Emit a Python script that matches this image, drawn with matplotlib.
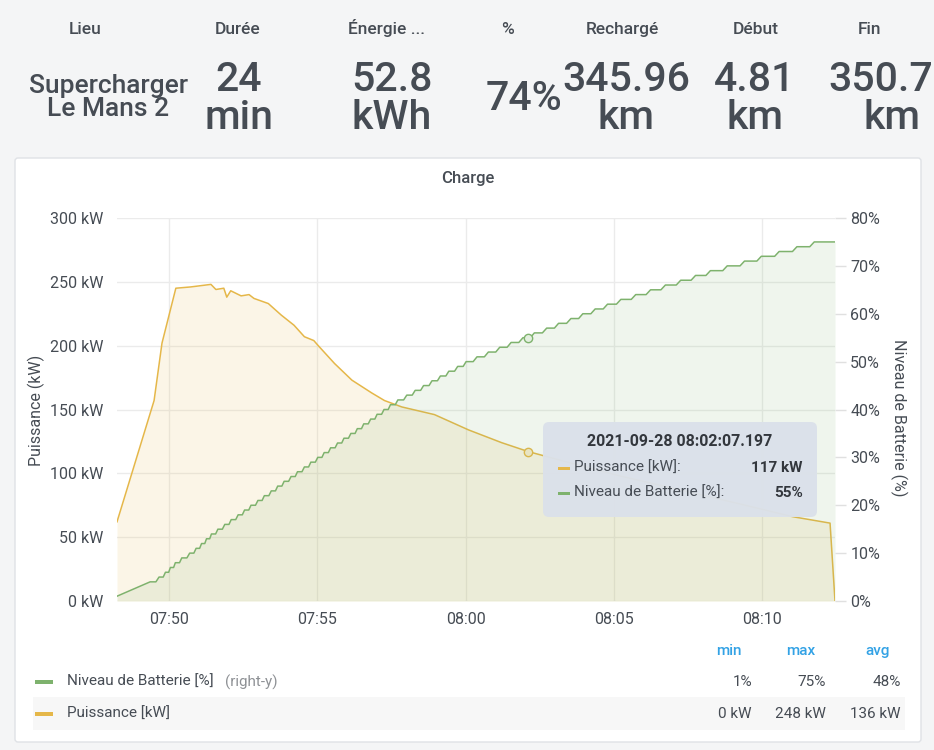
import matplotlib
matplotlib.use('Agg')
import matplotlib.pyplot as plt
import matplotlib.dates as mdates
from matplotlib.patches import FancyBboxPatch, Rectangle
import pandas as pd

plt.rcParams['font.family'] = ['Roboto', 'DejaVu Sans']

# ---------------- data ----------------
stat_labels = ['Lieu', 'Durée', 'Énergie ...', '%', 'Rechargé', 'Début', 'Fin']
stat_lieu = ['Supercharger', 'Le Mans 2']
stat_numbers = ['24', '52.8', '74%', '345.96', '4.81', '350.77']
stat_units = ['min', 'kWh', '', 'km', 'km', 'km']

power_times = ['07:48:15', '07:49:30', '07:49:46', '07:50:14', '07:50:44', '07:51:25',
               '07:51:35', '07:51:51', '07:51:57', '07:52:05', '07:52:26', '07:52:42',
               '07:52:52', '07:53:21', '07:53:47', '07:54:13', '07:54:34', '07:54:53',
               '07:55:02', '07:55:35', '07:56:10', '07:56:50', '07:57:16', '07:57:51',
               '07:58:57', '08:00:06', '08:01:13', '08:02:07', '08:03:14', '08:05:12',
               '08:07:14', '08:09:15', '08:11:02', '08:12:17', '08:12:27']
power_kw = [62, 157, 202, 245, 246, 248, 244, 245, 238, 243, 239, 240,
            237, 233, 224, 216, 207, 204, 200, 186, 173, 163, 157, 152,
            146, 134, 124, 117, 110, 98, 87, 76, 66, 61, 0]

# battery level (%) and the time each level was first reported
battery_times = ['07:48:15', '07:49:22', '07:49:40', '07:49:53',
                 '07:50:03', '07:50:13', '07:50:26', '07:50:42', '07:50:55', '07:51:06',
                 '07:51:16', '07:51:26', '07:51:39', '07:51:53', '07:52:06', '07:52:20',
                 '07:52:33', '07:52:46', '07:53:00', '07:53:13', '07:53:27', '07:53:40',
                 '07:53:53', '07:54:07', '07:54:20', '07:54:34', '07:54:47', '07:55:01',
                 '07:55:14', '07:55:27', '07:55:41', '07:55:54', '07:56:08', '07:56:21',
                 '07:56:34', '07:56:48', '07:57:01', '07:57:15', '07:57:28', '07:57:43',
                 '07:58:01', '07:58:18', '07:58:35', '07:58:52', '07:59:09', '07:59:26',
                 '07:59:44', '08:00:01', '08:00:23', '08:00:46', '08:01:09', '08:01:32',
                 '08:01:56', '08:02:19', '08:02:44', '08:03:08', '08:03:33', '08:03:57',
                 '08:04:22', '08:04:47', '08:05:14', '08:05:44', '08:06:14', '08:06:44',
                 '08:07:15', '08:07:45', '08:08:15', '08:08:49', '08:09:24', '08:09:58',
                 '08:10:34', '08:11:10', '08:11:45', '08:12:27']
battery_pct = [1, 4, 5, 6, 7, 8, 9, 10, 11, 12, 13, 14, 15, 16, 17, 18, 19, 20,
               21, 22, 23, 24, 25, 26, 27, 28, 29, 30, 31, 32, 33, 34, 35, 36, 37, 38, 39, 40,
               41, 42, 43, 44, 45, 46, 47, 48, 49, 50, 51, 52, 53, 54, 55, 56, 57, 58, 59, 60,
               61, 62, 63, 64, 65, 66, 67, 68, 69, 70, 71, 72, 73, 74, 75, 75]

legend_names = ['Niveau de Batterie [%]', 'Puissance [kW]']
legend_min = ['1%', '0 kW']
legend_max = ['75%', '248 kW']
legend_avg = ['48%', '136 kW']

tooltip_time = '2021-09-28 08:02:07.197'
tooltip_power = 117
tooltip_batt = 55

DAY = '2021-09-28 '
p_t = pd.to_datetime([DAY + t for t in power_times])
b_t = pd.to_datetime([DAY + t for t in battery_times])

# each level holds until shortly before the next one (last sample of the level),
# the line then rises to the next level like the sampled series does
bx_line, by_line = [b_t[0]], [battery_pct[0]]
for i in range(1, len(b_t) - 1):
    gap = b_t[i + 1] - b_t[i]
    bx_line.append(b_t[i])
    by_line.append(battery_pct[i])
    riser = min(gap * 0.35, pd.Timedelta(seconds=9))
    bx_line.append(b_t[i + 1] - riser)
    by_line.append(battery_pct[i])
bx_line.append(b_t[-1])
by_line.append(battery_pct[-1])

# ---------------- style ----------------
TXT = '#464c54'
GREEN = '#7eb26d'
YELLOW = '#e5b749'
GRID = '#ebebeb'
BG = '#f4f5f6'

W, H = 934, 750
fig = plt.figure(figsize=(W / 100, H / 100), dpi=100)
fig.patch.set_facecolor(BG)
T = fig.dpi_scale_trans


def P(px, py):
    return px / 100, (H - py) / 100


def ftext(px, py, s, **kw):
    x, y = P(px, py)
    return fig.text(x, y, s, transform=T, **kw)


# ---------- stat header ----------
hdr_x = [85, 238, 387, 508, 622, 756, 870]
for x, lab in zip(hdr_x, stat_labels):
    ftext(x, 34, lab, ha='center', va='baseline', fontsize=12.5, fontweight='medium', color=TXT)

ftext(108, 93, stat_lieu[0], ha='center', va='baseline', fontsize=19, fontweight='medium', color=TXT)
ftext(108, 116, stat_lieu[1], ha='center', va='baseline', fontsize=19, fontweight='medium', color=TXT)

num_x = [239, 392, 524, 626, 755, 892]
for x, n, u in zip(num_x, stat_numbers, stat_units):
    if u:
        ftext(x, 91, n, ha='center', va='baseline', fontsize=29.5, fontweight='medium', color=TXT)
        ftext(x, 129, u, ha='center', va='baseline', fontsize=29.5, fontweight='medium', color=TXT)
    else:
        ftext(x, 110, n, ha='center', va='baseline', fontsize=29.5, fontweight='medium', color=TXT)

# ---------- chart panel ----------
px0, py0 = P(15, 742)
panel = FancyBboxPatch((px0, py0), (921 - 15) / 100, (742 - 158) / 100,
                       boxstyle='round,pad=0,rounding_size=0.03', transform=T,
                       facecolor='white', edgecolor='#dfe2e6', linewidth=1, zorder=-5)
fig.patches.append(panel)

ftext(468, 178, 'Charge', ha='center', va='center', fontsize=12, fontweight='medium', color=TXT)

# axes
L, R, TOP, BOT = 117, 835, 218, 601
ax = fig.add_axes([L / W, 1 - BOT / H, (R - L) / W, (BOT - TOP) / H])
ax.patch.set_visible(False)
ax2 = ax.twinx()

ax.fill_between(p_t, power_kw, 0, color=YELLOW, alpha=0.13, linewidth=0, zorder=1)
ax.plot(p_t, power_kw, color=YELLOW, lw=1.1, zorder=3)
ax2.fill_between(bx_line, by_line, 0, color=GREEN, alpha=0.12, linewidth=0, zorder=1)
ax2.plot(bx_line, by_line, color=GREEN, lw=1.1, zorder=3)

tt = pd.Timestamp('2021-09-28 08:02:07')
ax.plot([tt], [tooltip_power], marker='o', ms=6, mfc='#f7ecd0', mec=YELLOW, mew=1, zorder=4)
ax2.plot([tt], [tooltip_batt], marker='o', ms=6, mfc='#e3efdf', mec=GREEN, mew=1, zorder=4)

ax.set_xlim(p_t[0], p_t[-1])
ax.set_ylim(0, 300)
ax2.set_ylim(0, 80)
ax.set_yticks(range(0, 301, 50))
ax.set_yticklabels([f'{v} kW' for v in range(0, 301, 50)])
ax2.set_yticks(range(0, 81, 10))
ax2.set_yticklabels([f'{v}%' for v in range(0, 81, 10)])
ax.xaxis.set_major_locator(mdates.MinuteLocator(byminute=range(0, 60, 5)))
ax.xaxis.set_major_formatter(mdates.DateFormatter('%H:%M'))

ax.grid(True, color=GRID, lw=1)
ax.set_axisbelow(True)
for a in (ax, ax2):
    for s in a.spines.values():
        s.set_visible(False)
ax.tick_params(axis='both', length=0, labelsize=11.5, labelcolor=TXT)
ax.tick_params(axis='y', pad=9.5)
ax.tick_params(axis='x', pad=8)
ax2.tick_params(axis='y', length=8, color='#e0e0e0', width=1, pad=3, labelsize=11.5, labelcolor=TXT)

ftext(36, 410, 'Puissance (kW)', ha='center', va='center', rotation=90, fontsize=11.5, color=TXT)
ftext(899, 418, 'Niveau de Batterie (%)', ha='center', va='center', rotation=-90, fontsize=11.5, color=TXT)

# ---------- tooltip ----------
bx, by = P(543, 517)
tip = FancyBboxPatch((bx, by), (817 - 543) / 100, (517 - 422) / 100,
                     boxstyle='round,pad=0,rounding_size=0.06', transform=T,
                     facecolor='#dbe1ea', edgecolor='none', alpha=0.97, zorder=10)
fig.patches.append(tip)
t1 = ftext(680, 442, tooltip_time, ha='center', va='center', fontsize=11.5, fontweight='bold', color='#33373d')
rows = [(468, YELLOW, 'Puissance [kW]:', f'{tooltip_power} kW'),
        (493, GREEN, 'Niveau de Batterie [%]:', f'{tooltip_batt}%')]
for y, c, lab, val in rows:
    rx, ry = P(558, y + 1.5)
    fig.patches.append(Rectangle((rx, ry), 0.12, 0.03, transform=T, facecolor=c, edgecolor='none', zorder=11))
    ftext(574, y, lab, ha='left', va='center', fontsize=11, color=TXT, zorder=11)
    ftext(803, y, val, ha='right', va='center', fontsize=11, fontweight='bold', color='#33373d', zorder=11)
t1.set_zorder(11)

# ---------- legend table ----------
rx, ry = P(33, 730)
fig.patches.append(Rectangle((rx, ry), (905 - 33) / 100, 0.33, transform=T,
                             facecolor='#f7f7f7', edgecolor='none', zorder=-4))
BLUE = '#33a2e5'
for x, h in zip([729, 801, 878], ['min', 'max', 'avg']):
    ftext(x, 651, h, ha='center', va='center', fontsize=11, fontweight='medium', color=BLUE)

leg_colors = [GREEN, YELLOW]
for i, y in enumerate([682, 714]):
    mx, my = P(35, y + 2)
    fig.patches.append(Rectangle((mx, my), 0.18, 0.04, transform=T, facecolor=leg_colors[i],
                                 edgecolor='none', zorder=-3))
    ftext(67, y, legend_names[i], ha='left', va='center', fontsize=11, color=TXT)
    if i == 0:
        ftext(225, y, '(right-y)', ha='left', va='center', fontsize=11, color='#8e9195')
    ftext(752, y, legend_min[i], ha='right', va='center', fontsize=11, color=TXT)
    ftext(826, y, legend_max[i], ha='right', va='center', fontsize=11, color=TXT)
    ftext(901, y, legend_avg[i], ha='right', va='center', fontsize=11, color=TXT)

fig.savefig('out.png', dpi=100, facecolor=fig.get_facecolor())
